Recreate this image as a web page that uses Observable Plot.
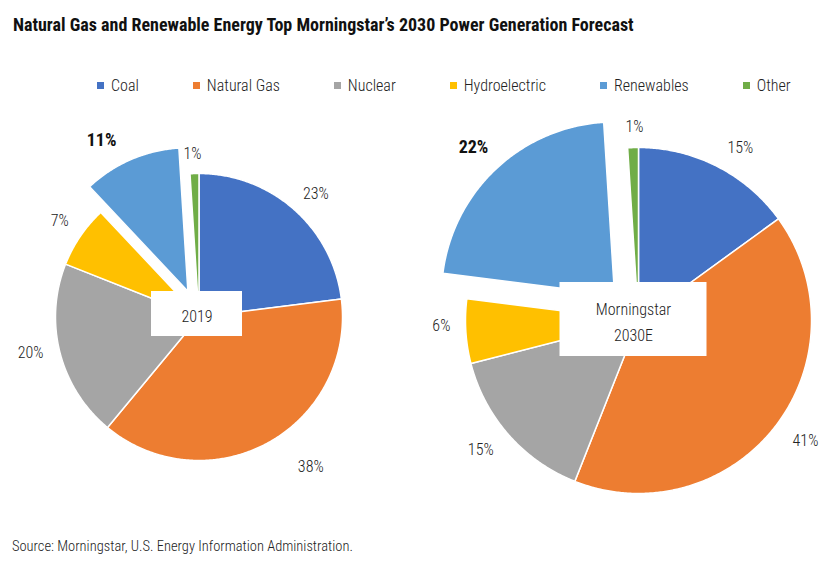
<!DOCTYPE html>
<html>
<head>
<meta charset="utf-8">
<script src="https://cdn.jsdelivr.net/npm/d3@7"></script>
<script src="https://cdn.jsdelivr.net/npm/@observablehq/plot@0.6"></script>
<style>
  html, body { margin: 0; padding: 0; background: #fff; }
  #root { position: relative; width: 831px; height: 563px; overflow: hidden;
    font-family: "Roboto Condensed", "Liberation Sans Narrow", "DejaVu Sans Condensed", "Arial Narrow", Roboto, sans-serif;
    color: #222; }
  #title { position: absolute; left: 13px; top: 14px; font-size: 18px; font-weight: bold; color: #111; white-space: nowrap; }
  #legend { position: absolute; left: 97px; top: 75px; height: 20px; display: flex; align-items: center; gap: 54px; font-size: 16px; font-weight: 300; white-space: nowrap; }
  #legend .item { display: flex; align-items: center; gap: 7px; }
  #legend .sw { width: 7px; height: 7px; display: inline-block; }
  #chart { position: absolute; left: 0; top: 100px; }
  #caption { position: absolute; left: 12px; top: 538px; font-size: 14.5px; font-weight: 300; color: #222; white-space: nowrap; }
</style>
</head>
<body>
<div id="root">
  <div id="title">Natural Gas and Renewable Energy Top Morningstar’s 2030 Power Generation Forecast</div>
  <div id="legend"></div>
  <div id="chart"></div>
  <div id="caption">Source: Morningstar, U.S. Energy Information Administration.</div>
</div>
<script>
// ---- Data ----
const categories = ["Coal", "Natural Gas", "Nuclear", "Hydroelectric", "Renewables", "Other"];
const share2019 = [23, 38, 20, 7, 11, 1];
const share2030E = [15, 41, 15, 6, 22, 1];
const pieNames = ["2019", "Morningstar\n2030E"];
const highlighted = "Renewables";
const colors = ["#4472C4", "#ED7D31", "#A5A5A5", "#FFC000", "#5B9BD5", "#70AD47"];

// ---- Layout (pixel geometry, not data) ----
const W = 831, H = 430;
const FONT = getComputedStyle(document.getElementById("root")).fontFamily;
const layout = [
  {cx: 198.5, cy: 216.5, r: 143.5, explode: 28, box: {w: 91, h: 45, dx: -2, dy: -3}},
  {cx: 638, cy: 220, r: 173, explode: 35, box: {w: 147, h: 74, dx: -5, dy: -1}}
];
const labelRadius = 1.18;
const labelNudge = { // [angle offset in degrees, radius factor]
  "0:Coal": [2, 1.185], "0:Natural Gas": [-8, 1.3], "0:Nuclear": [2.4, 1.2], "0:Hydroelectric": [0.5, 1.18],
  "0:Renewables": [-6.4, 1.21], "0:Other": [-0.5, 1.14],
  "1:Coal": [3.5, 1.16], "1:Natural Gas": [-2, 1.19], "1:Nuclear": [2, 1.18], "1:Hydroelectric": [2.1, 1.14],
  "1:Renewables": [-0.5, 1.18], "1:Other": [0.6, 1.12]
};

// ---- Legend ----
const legend = document.getElementById("legend");
categories.forEach((c, i) => {
  const it = document.createElement("div"); it.className = "item";
  const sw = document.createElement("span"); sw.className = "sw"; sw.style.background = colors[i];
  const tx = document.createElement("span"); tx.textContent = c;
  it.append(sw, tx); legend.append(it);
});

// ---- Geometry from data ----
const rad = d => d * Math.PI / 180;
const slicePoints = [], labels = [], boxes = [];
[share2019, share2030E].forEach((shares, p) => {
  const L = layout[p];
  const total = d3.sum(shares);
  let acc = 0;
  shares.forEach((v, i) => {
    const a0 = acc / total * 360, a1 = (acc + v) / total * 360; acc += v;
    const mid = (a0 + a1) / 2;
    const cat = categories[i];
    const off = cat === highlighted ? L.explode : 0;
    const ox = L.cx + off * Math.sin(rad(mid)), oy = L.cy - off * Math.cos(rad(mid));
    const id = p + ":" + cat;
    slicePoints.push({id, cat, x: ox, y: oy});
    const n = Math.max(2, Math.ceil((a1 - a0) / 0.5));
    for (let k = 0; k <= n; k++) {
      const a = a0 + (a1 - a0) * k / n;
      slicePoints.push({id, cat, x: ox + L.r * Math.sin(rad(a)), y: oy - L.r * Math.cos(rad(a))});
    }
    const [na, nr] = labelNudge[id] || [0, labelRadius];
    labels.push({cat, text: v + "%", bold: cat === highlighted,
      x: ox + L.r * nr * Math.sin(rad(mid + na)), y: oy - L.r * nr * Math.cos(rad(mid + na))});
  });
  const b = L.box;
  boxes.push({name: pieNames[p], x1: L.cx + b.dx - b.w / 2, x2: L.cx + b.dx + b.w / 2,
    y1: L.cy + b.dy - b.h / 2, y2: L.cy + b.dy + b.h / 2, x: L.cx + b.dx, y: L.cy + b.dy});
});

const chart = Plot.plot({
  width: W, height: H,
  margin: 0,
  x: {domain: [0, W], range: [0, W], axis: null},
  y: {domain: [0, H], range: [0, H], axis: null},
  color: {domain: categories, range: colors},
  style: {fontFamily: FONT, background: "transparent"},
  marks: [
    Plot.line(slicePoints, {x: "x", y: "y", z: "id", fill: "cat", stroke: "white", strokeWidth: 1.5,
      strokeLinejoin: "round", curve: "linear-closed"}),
    Plot.text(labels.filter(d => !d.bold), {x: "x", y: "y", text: "text", fontSize: 16, fontWeight: 300, fill: "#222"}),
    Plot.text(labels.filter(d => d.bold), {x: "x", y: "y", text: "text", fontSize: 18, fontWeight: "bold", fill: "#111"}),
    Plot.rect(boxes, {x1: "x1", x2: "x2", y1: "y1", y2: "y2", fill: "white"}),
    Plot.text(boxes, {x: "x", y: "y", text: "name", fontSize: 16, fontWeight: 300, lineHeight: 1.65, fill: "#222"})
  ]
});
document.getElementById("chart").append(chart);
</script>
</body>
</html>
